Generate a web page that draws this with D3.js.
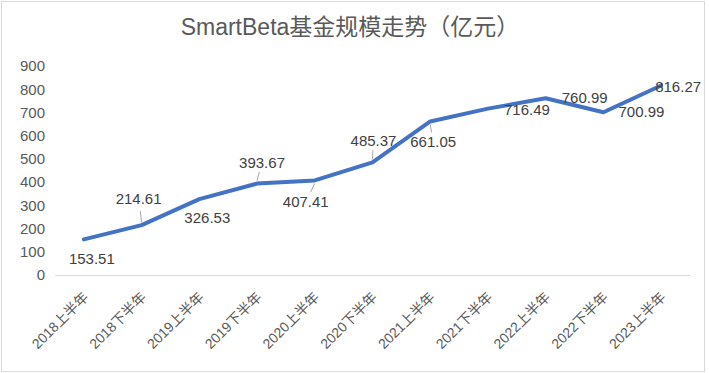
<!DOCTYPE html>
<html>
<head>
<meta charset="utf-8">
<script src="https://cdn.jsdelivr.net/npm/d3@7"></script>
<style>
  body { margin: 0; background: #fff; }
  text { font-family: "Liberation Sans", Arial, "Noto Sans CJK SC", sans-serif; }
</style>
</head>
<body>
<script>
// Data
const periods = ["2018上半年", "2018下半年", "2019上半年", "2019下半年", "2020上半年", "2020下半年",
    "2021上半年", "2021下半年", "2022上半年", "2022下半年", "2023上半年"];
const scale = [153.51, 214.61, 326.53, 393.67, 407.41, 485.37, 661.05, 716.49, 760.99, 700.99, 816.27];
const yTicks = [0, 100, 200, 300, 400, 500, 600, 700, 800, 900];

// where each data label sits relative to its point (as in the source chart)
const labelOffset = [[8, 19], [-3, -26], [8, 19], [5, -21], [-9, 21], [1, -22],
    [3, 20], [39, 1], [39, -1], [38, 0], [17, 1]];
const leader = [false, true, false, true, true, true, true, false, false, false, false];

const width = 709;
const height = 373;
const margin = { top: 66, right: 19, bottom: 98, left: 55 };

const svg = d3.select("body")
    .append("svg")
    .attr("width", width)
    .attr("height", height);

// Outer frame
svg.append("rect")
    .attr("x", 1.5)
    .attr("y", 1.5)
    .attr("width", 703)
    .attr("height", 370)
    .attr("fill", "#fff")
    .attr("stroke", "#d9d9d9");

// Title
svg.append("text")
    .attr("x", 350)
    .attr("y", 35)
    .attr("text-anchor", "middle")
    .style("font-size", "23px")
    .style("fill", "#595959")
    .text("SmartBeta基金规模走势（亿元）");

const x = d3.scalePoint()
    .domain(periods)
    .range([margin.left, width - margin.right])
    .padding(0.5);

const y = d3.scaleLinear()
    .domain([0, 900])
    .range([height - margin.bottom, margin.top]);

// Y axis (labels only)
const yAxis = svg.append("g")
    .attr("transform", `translate(${margin.left},0)`)
    .call(d3.axisLeft(y).tickValues(yTicks).tickSize(0).tickPadding(10));
yAxis.select(".domain").remove();
yAxis.selectAll("text")
    .style("font-size", "15px")
    .style("fill", "#595959");

// Baseline
svg.append("line")
    .attr("x1", margin.left)
    .attr("x2", width - margin.right)
    .attr("y1", y(0) + 0.5)
    .attr("y2", y(0) + 0.5)
    .attr("stroke", "#d9d9d9")
    .attr("stroke-width", 1);

// X axis labels, rotated
const xAxis = svg.append("g")
    .attr("transform", `translate(0,${y(0)})`)
    .call(d3.axisBottom(x).tickSize(0).tickPadding(0));
xAxis.select(".domain").remove();
xAxis.selectAll("text")
    .attr("text-anchor", "end")
    .attr("dy", null)
    .attr("transform", "translate(5,23) rotate(-45)")
    .style("font-size", "14px")
    .style("fill", "#595959");

// Line
const line = d3.line()
    .x((d, i) => x(periods[i]))
    .y(d => y(d));

svg.append("path")
    .datum(scale)
    .attr("fill", "none")
    .attr("stroke", "#4472C4")
    .attr("stroke-width", 4)
    .attr("stroke-linejoin", "round")
    .attr("stroke-linecap", "round")
    .attr("d", line);

// Leader lines
svg.append("g")
    .selectAll("line")
    .data(scale.map((v, i) => i).filter(i => leader[i]))
    .enter()
    .append("line")
    .attr("x1", i => x(periods[i]))
    .attr("y1", i => y(scale[i]) + (labelOffset[i][1] > 0 ? 3 : -3))
    .attr("x2", i => x(periods[i]) + labelOffset[i][0] * 0.45)
    .attr("y2", i => y(scale[i]) + labelOffset[i][1] * 0.55)
    .attr("stroke", "#a6a6a6")
    .attr("stroke-width", 1);

// Data labels
svg.append("g")
    .selectAll("text")
    .data(scale)
    .enter()
    .append("text")
    .attr("x", (d, i) => x(periods[i]) + labelOffset[i][0])
    .attr("y", (d, i) => y(d) + labelOffset[i][1])
    .attr("dy", "0.35em")
    .attr("text-anchor", "middle")
    .style("font-size", "15px")
    .style("fill", "#404040")
    .text(d => d.toFixed(2));
</script>
</body>
</html>
